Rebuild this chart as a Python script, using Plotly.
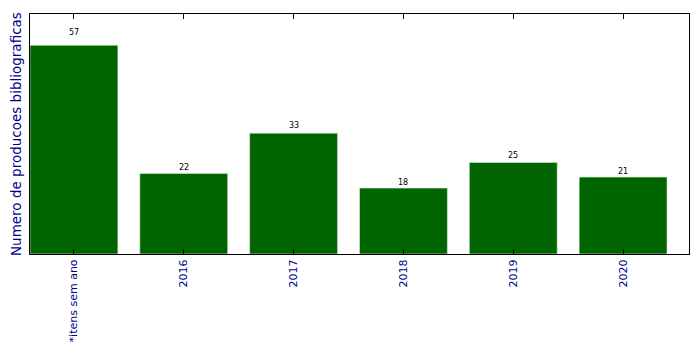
import plotly.graph_objects as go

categories = ["*itens sem ano", "2016", "2017", "2018", "2019", "2020"]
values = [57, 22, 33, 18, 25, 21]

fig = go.Figure()
fig.add_trace(go.Bar(
    x=list(range(len(categories))),
    y=values,
    width=0.8,
    marker=dict(color="#006400", line=dict(color="#d8ecd8", width=0.6)),
    hoverinfo="skip",
))

for i, v in enumerate(values):
    fig.add_annotation(
        x=i, y=v * 1.05, text=str(v), showarrow=False,
        xref="x", yref="y", yanchor="middle", yshift=2,
        font=dict(family="DejaVu Sans", size=8, color="black"),
    )

fig.add_annotation(
    x=0, y=0.5, xref="paper", yref="paper",
    text="Numero de producoes bibliograficas", textangle=-90,
    showarrow=False, xanchor="center", yanchor="middle", xshift=-14,
    font=dict(family="DejaVu Sans", size=13.5, color="darkblue"),
)

fig.update_layout(
    width=699, height=354,
    margin=dict(l=30, r=10, t=14, b=100),
    paper_bgcolor="white", plot_bgcolor="white",
    showlegend=False,
    bargap=0.2,
    xaxis=dict(
        range=[-0.4, 5.6],
        tickmode="array",
        tickvals=list(range(len(categories))),
        ticktext=categories,
        tickangle=-90,
        ticks="inside", ticklen=5, tickwidth=1, tickcolor="black",
        showline=True, linecolor="black", linewidth=1, mirror="ticks",
        showgrid=False, zeroline=False,
        tickfont=dict(family="DejaVu Sans", size=11, color="darkblue"),
        automargin=False,
    ),
    yaxis=dict(
        range=[0, 65.55],
        showticklabels=False, ticks="",
        showline=True, linecolor="black", linewidth=1, mirror=True,
        showgrid=False, zeroline=False,
        automargin=False,
    ),
)

fig.write_html("out.html")
